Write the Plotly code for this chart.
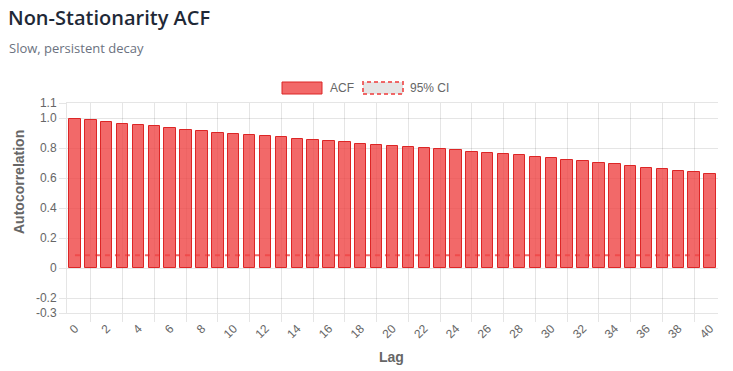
import plotly.graph_objects as go

# ---------------- data ----------------
lags = list(range(41))
acf_values = [0.993, 0.985, 0.973, 0.962, 0.953, 0.945, 0.931, 0.918, 0.911, 0.900,
              0.893, 0.885, 0.878, 0.871, 0.862, 0.853, 0.847, 0.840, 0.827, 0.820,
              0.813, 0.807, 0.800, 0.793, 0.784, 0.773, 0.767, 0.760, 0.751, 0.740,
              0.733, 0.720, 0.713, 0.700, 0.691, 0.680, 0.667, 0.658, 0.647, 0.638,
              0.627]
ci_upper = 0.085
y_tickvals = [1.1, 1.0, 0.8, 0.6, 0.4, 0.2, 0, -0.2, -0.3]
y_ticktext = ["1.1", "1.0", "0.8", "0.6", "0.4", "0.2", "0", "-0.2", "-0.3"]
x_tickvals = list(range(0, 41, 2))
x_ticktext = [str(v) for v in x_tickvals]
x_gridvals = list(range(1, 40, 2))
legend_labels = ["ACF", "95% CI"]

# ---------------- styles ----------------
W, H = 733, 371
L, R, T, B = 67, 718, 103, 313
GRID = "rgba(0,0,0,0.1)"
BAR_FILL = "rgba(239,68,68,0.8)"
BAR_LINE = "rgb(220,38,38)"
TICK_FONT = dict(family="Liberation Sans, Arial, sans-serif", size=12, color="#666666")


def px(x):
    return (x - L) / (R - L)


def py(y):
    return (B - y) / (B - T)


fig = go.Figure()
fig.add_trace(go.Bar(
    x=lags, y=acf_values, name=legend_labels[0], width=0.72,
    marker=dict(color=BAR_FILL, line=dict(color=BAR_LINE, width=1)),
    showlegend=False,
))

shapes = [
    # confidence line, drawn between grid and bars
    dict(type="line", xref="x", yref="y", x0=lags[0], x1=lags[-1], y0=ci_upper, y1=ci_upper,
         line=dict(color="rgba(239,68,68,0.8)", width=2, dash="5px,5px"), layer="between"),
    # legend boxes
    dict(type="rect", xref="paper", yref="paper", x0=px(282), x1=px(322), y0=py(94), y1=py(82),
         fillcolor=BAR_FILL, line=dict(color=BAR_LINE, width=1), layer="above"),
    dict(type="rect", xref="paper", yref="paper", x0=px(363), x1=px(403), y0=py(94), y1=py(82),
         fillcolor="rgba(0,0,0,0.1)", line=dict(color="rgba(239,68,68,0.8)", width=2, dash="4px,3px"),
         layer="above"),
]

annotations = [
    dict(text=legend_labels[0], xref="paper", yref="paper", x=px(328), y=py(88),
         xanchor="left", yanchor="middle", showarrow=False, font=TICK_FONT),
    dict(text=legend_labels[1], xref="paper", yref="paper", x=px(408), y=py(88),
         xanchor="left", yanchor="middle", showarrow=False, font=TICK_FONT),
    dict(text="Slow, persistent decay", xref="paper", yref="paper", x=px(7), y=py(48),
         xanchor="left", yanchor="middle", showarrow=False,
         font=dict(family="Open Sans, Noto Sans, sans-serif", size=13, color="#6b7280")),
    dict(text="<b>Autocorrelation</b>", xref="paper", yref="paper", x=px(19), y=py(182),
         xanchor="center", yanchor="middle", showarrow=False, textangle=-90,
         font=dict(family="Liberation Sans, Arial, sans-serif", size=14, color="#666666")),
    dict(text="<b>Lag</b>", xref="paper", yref="paper", x=px(391), y=py(357),
         xanchor="center", yanchor="middle", showarrow=False,
         font=dict(family="Liberation Sans, Arial, sans-serif", size=14, color="#666666")),
]

fig.update_layout(
    width=W, height=H,
    margin=dict(l=L, r=W - R, t=T, b=H - B, pad=0, autoexpand=False),
    paper_bgcolor="white", plot_bgcolor="white",
    title=dict(text="Non-Stationarity ACF", xref="container", yref="container",
               x=8 / W, y=1 - 18 / H, xanchor="left", yanchor="middle",
               font=dict(family="Open Sans, Noto Sans, sans-serif", size=20, color="#1f2937",
                         weight=600)),
    shapes=shapes, annotations=annotations,
    showlegend=False,
    bargap=0,
    xaxis=dict(
        range=[-0.5, 40.5], tickmode="array", tickvals=x_tickvals, ticktext=x_ticktext,
        tickangle=-45, tickfont=TICK_FONT, showgrid=False, ticks="", zeroline=False,
        showline=True, linecolor=GRID, linewidth=1, mirror=True, automargin=False,
        ticklabelstandoff=3,
        minor=dict(tickvals=x_gridvals, showgrid=True, gridcolor=GRID, gridwidth=1,
                   ticks="outside", ticklen=8, tickcolor=GRID),
    ),
    yaxis=dict(
        range=[-0.3, 1.1], tickmode="array", tickvals=y_tickvals, ticktext=y_ticktext,
        tickfont=TICK_FONT, showgrid=True, gridcolor=GRID, gridwidth=1, zeroline=False,
        ticks="outside", ticklen=7, tickcolor=GRID, automargin=False,
        showline=True, linecolor=GRID, linewidth=1,
    ),
)

fig.write_html(
    "out.html",
    config={"displayModeBar": False},
    post_script="document.body.style.margin='0';document.body.style.overflow='hidden';",
)
